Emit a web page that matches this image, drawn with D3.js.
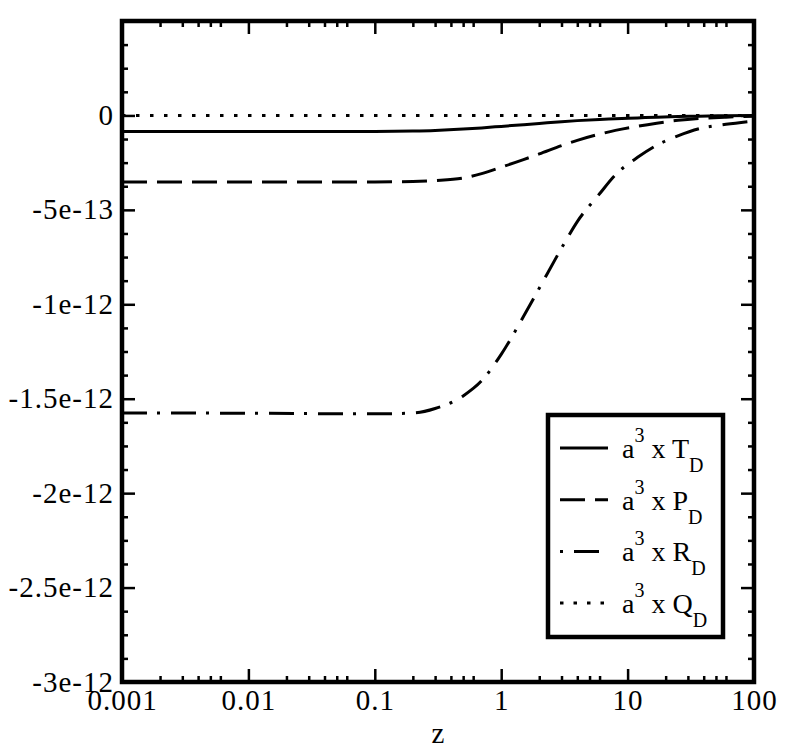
<!DOCTYPE html>
<html>
<head>
<meta charset="utf-8">
<script src="https://cdn.jsdelivr.net/npm/d3@7"></script>
<style>
  html, body { margin: 0; padding: 0; background: #fff; }
  svg { display: block; }
  svg text { font-family: 'Liberation Serif', 'DejaVu Serif', serif; fill: #000; }
</style>
</head>
<body>
<svg id="chart" width="786" height="755"></svg>
<script>
// ---- data ----
const zValues = [0.001, 0.01, 0.1, 0.2, 0.3, 0.5, 0.7, 1, 1.5, 2, 3, 4, 6, 8, 12, 17, 25, 37, 60, 100];
const seriesT = [-8.5e-14, -8.5e-14, -8.45e-14, -8.25e-14, -7.95e-14, -7.25e-14, -6.6e-14, -5.8e-14, -4.9e-14, -4.25e-14, -3.3e-14, -2.75e-14, -2.1e-14, -1.75e-14, -1.3e-14, -0.95e-14, -0.62e-14, -0.38e-14, -0.17e-14, -0.05e-14];
const seriesP = [-3.52e-13, -3.52e-13, -3.52e-13, -3.50e-13, -3.45e-13, -3.32e-13, -3.08e-13, -2.74e-13, -2.34e-13, -2.04e-13, -1.60e-13, -1.32e-13, -0.99e-13, -0.79e-13, -0.57e-13, -0.41e-13, -0.26e-13, -0.16e-13, -0.09e-13, -0.05e-13];
const seriesR = [-1.575e-12, -1.577e-12, -1.580e-12, -1.576e-12, -1.552e-12, -1.485e-12, -1.405e-12, -1.265e-12, -1.065e-12, -0.915e-12, -0.703e-12, -0.562e-12, -0.415e-12, -0.315e-12, -0.222e-12, -0.158e-12, -0.108e-12, -0.070e-12, -0.047e-12, -0.029e-12];
const seriesQ = [0, 0, 0, 0, 0, 0, 0, 0, 0, 0, 0, 0, 0, 0, 0, 0, 0, 0, 0, 0];

const xTickValues = [0.001, 0.01, 0.1, 1, 10, 100];
const xTickLabels = ["0.001", "0.01", "0.1", "1", "10", "100"];
const yTickValues = [0, -5e-13, -1e-12, -1.5e-12, -2e-12, -2.5e-12, -3e-12];
const yTickLabels = ["0", "-5e-13", "-1e-12", "-1.5e-12", "-2e-12", "-2.5e-12", "-3e-12"];
const legendNames = ["T", "P", "R", "Q"];
const xLabel = "z";

// ---- layout ----
const FONT = "'Liberation Serif', 'DejaVu Serif', serif";
const svg = d3.select("#chart").attr("font-family", FONT);
const L = 122, R = 754, T = 21, B = 682;
const x = d3.scaleLog().domain([0.001, 100]).range([L, R]);
const y = d3.scaleLinear().domain([-3e-12, 5e-13]).range([B, T]);
const FS = 29;

const styles = [
  { dash: null, offset: 0 },
  { dash: "25,10", offset: 0 },
  { dash: "25,10,3,11", offset: 0 },
  { dash: "3.5,10.5", offset: 0 }
];
const legendStyles = [
  { dash: null, offset: 0 },
  { dash: "25,10", offset: 0 },
  { dash: "25,10,3,11", offset: 35 },
  { dash: "3.5,10", offset: 0 }
];

// minor ticks
const xMinor = [];
[0.001, 0.01, 0.1, 1, 10].forEach(d => { for (let k = 2; k <= 6; k++) xMinor.push(d * k); });
const yMinor = d3.range(-3e-12, 5e-13 + 1e-15, 1.25e-13).filter(v => Math.abs((v / 5e-13) - Math.round(v / 5e-13)) > 1e-6);
const yMajorAll = d3.range(-3e-12, 5e-13 + 1e-15, 5e-13);

const g = svg.append("g");
svg.append("clipPath").attr("id", "plotclip")
  .append("rect").attr("x", L).attr("y", T).attr("width", R - L).attr("height", B - T);

// ticks with d3 axes (inward)
const MAJ = 13, MIN = 6;
function styleAxis(sel) {
  sel.select(".domain").remove();
  sel.selectAll(".tick line").attr("stroke", "#000").attr("stroke-width", 2.5);
  sel.selectAll(".tick text").remove();
}
g.append("g").attr("transform", `translate(0,${B})`)
  .call(d3.axisBottom(x).tickValues(xTickValues).tickSize(-MAJ)).call(styleAxis);
g.append("g").attr("transform", `translate(0,${B})`)
  .call(d3.axisBottom(x).tickValues(xMinor).tickSize(-MIN)).call(styleAxis);
g.append("g").attr("transform", `translate(0,${T})`)
  .call(d3.axisTop(x).tickValues(xTickValues).tickSize(-MAJ)).call(styleAxis);
g.append("g").attr("transform", `translate(0,${T})`)
  .call(d3.axisTop(x).tickValues(xMinor).tickSize(-MIN)).call(styleAxis);
g.append("g").attr("transform", `translate(${L},0)`)
  .call(d3.axisLeft(y).tickValues(yMajorAll).tickSize(-MAJ)).call(styleAxis);
g.append("g").attr("transform", `translate(${L},0)`)
  .call(d3.axisLeft(y).tickValues(yMinor).tickSize(-MIN)).call(styleAxis);
g.append("g").attr("transform", `translate(${R},0)`)
  .call(d3.axisRight(y).tickValues(yMajorAll).tickSize(-MAJ)).call(styleAxis);
g.append("g").attr("transform", `translate(${R},0)`)
  .call(d3.axisRight(y).tickValues(yMinor).tickSize(-MIN)).call(styleAxis);

// tick labels
g.selectAll(".xl").data(xTickValues).enter().append("text")
  .attr("font-family", FONT).attr("letter-spacing", 1)
  .attr("x", d => x(d) + 0.5).attr("y", 710).attr("text-anchor", "middle")
  .attr("font-size", FS).text((d, i) => xTickLabels[i]);
g.selectAll(".yl").data(yTickValues).enter().append("text")
  .attr("font-family", FONT).attr("letter-spacing", 1)
  .attr("x", 114).attr("y", d => y(d) + 9.5).attr("text-anchor", "end")
  .attr("font-size", FS).text((d, i) => yTickLabels[i]);
g.append("text").attr("font-family", FONT)
  .attr("x", (L + R) / 2).attr("y", 743).attr("text-anchor", "middle")
  .attr("font-size", FS).text(xLabel);

// curves
const allSeries = [seriesT, seriesP, seriesR, seriesQ];
const line = d3.line().x(d => x(d[0])).y(d => y(d[1])).curve(d3.curveMonotoneX);
const curves = g.append("g").attr("clip-path", "url(#plotclip)");
allSeries.forEach((s, i) => {
  const pts = zValues.map((z, j) => [z, s[j]]);
  curves.append("path").datum(pts).attr("d", line)
    .attr("fill", "none").attr("stroke", "#000").attr("stroke-width", 3)
    .attr("stroke-dasharray", styles[i].dash)
    .attr("stroke-dashoffset", styles[i].offset);
});

// frame
g.append("rect").attr("x", L).attr("y", T).attr("width", R - L).attr("height", B - T)
  .attr("fill", "none").attr("stroke", "#000").attr("stroke-width", 4.5);

// legend
const lg = g.append("g");
lg.append("rect").attr("x", 548).attr("y", 415).attr("width", 175).attr("height", 222)
  .attr("fill", "#fff").attr("stroke", "#000").attr("stroke-width", 4.5);
legendNames.forEach((name, i) => {
  const ly = 448 + i * 51.7;
  lg.append("line").attr("x1", 560).attr("x2", 608).attr("y1", ly).attr("y2", ly)
    .attr("stroke", "#000").attr("stroke-width", 3)
    .attr("stroke-dasharray", legendStyles[i].dash)
    .attr("stroke-dashoffset", legendStyles[i].offset);
  const t = lg.append("text").attr("font-family", FONT)
    .attr("x", 622).attr("y", ly + 10).attr("font-size", 28);
  t.append("tspan").text("a");
  t.append("tspan").attr("font-size", 20).attr("dy", -16).text("3");
  t.append("tspan").attr("dy", 16).text(" x " + name);
  t.append("tspan").attr("font-size", 20).attr("dy", 14).text("D");
});
</script>
</body>
</html>
